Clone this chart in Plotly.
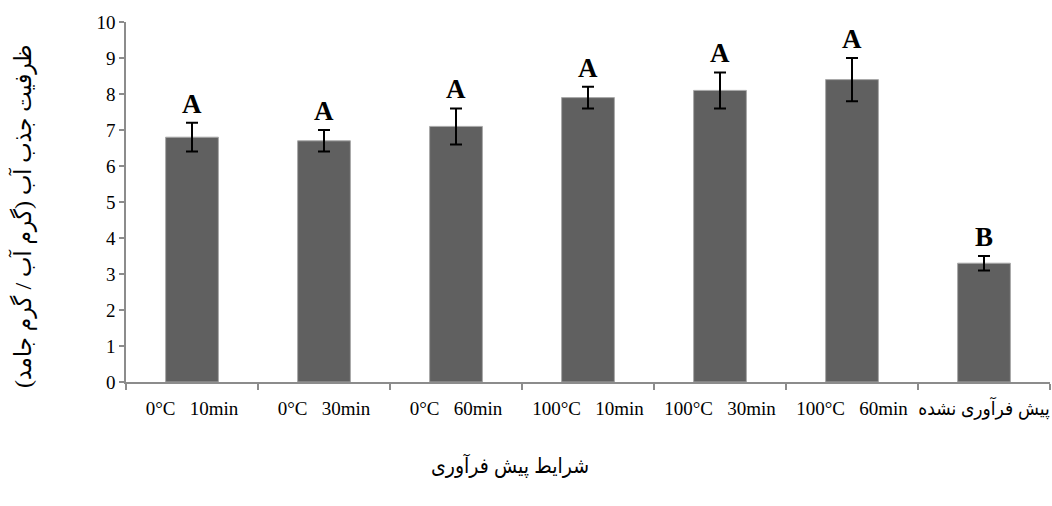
import plotly.graph_objects as go

# Pretreatment conditions (x categories)
categories = [
    "0°C\u00a0\u00a0\u00a010min",
    "0°C\u00a0\u00a0\u00a030min",
    "0°C\u00a0\u00a0\u00a060min",
    "100°C\u00a0\u00a0\u00a010min",
    "100°C\u00a0\u00a0\u00a030min",
    "100°C\u00a0\u00a0\u00a060min",
    "پیش فرآوری نشده",
]
# Water absorption capacity (g water / g solid)
absorption = [6.8, 6.7, 7.1, 7.9, 8.1, 8.4, 3.3]
errors = [0.4, 0.3, 0.5, 0.3, 0.5, 0.6, 0.2]
groups = ["A", "A", "A", "A", "A", "A", "B"]

y_ticks = list(range(0, 11))

serif = "Times New Roman, Liberation Serif, DejaVu Sans Condensed, DejaVu Sans, serif"

fig = go.Figure()
fig.add_trace(go.Bar(
    x=categories,
    y=absorption,
    width=0.4,
    marker=dict(color="#606060", line=dict(color="#a8a8a8", width=1)),
    error_y=dict(type="data", array=errors, visible=True,
                 color="black", thickness=2, width=6),
))

# Significance letters above each error bar
for cat, v, e, g in zip(categories, absorption, errors, groups):
    fig.add_annotation(
        x=cat, y=v + e, text=f"<b>{g}</b>", showarrow=False,
        yanchor="bottom", yshift=2,
        font=dict(family=serif, size=27, color="black"),
    )

# Axis titles
fig.add_annotation(
    text="ظرفیت جذب آب (گرم آب / گرم جامد)",
    xref="paper", yref="paper", x=-0.1126, y=0.461,
    xanchor="center", yanchor="middle",
    textangle=-90, showarrow=False,
    font=dict(family=serif, size=24, color="black"),
)
fig.add_annotation(
    text="شرایط پیش فرآوری",
    xref="paper", yref="paper", x=0.4156, y=-0.2306,
    xanchor="center", yanchor="middle",
    showarrow=False,
    font=dict(family=serif, size=21, color="black"),
)

fig.update_layout(
    width=1052, height=506,
    margin=dict(l=126, r=2, t=22, b=124),
    paper_bgcolor="white", plot_bgcolor="white",
    showlegend=False,
    font=dict(family=serif, size=19, color="black"),
)
fig.update_xaxes(
    type="category", tickangle=0, automargin=False,
    showline=True, linecolor="#8c8c8c", linewidth=1.5,
    ticks="outside", tickson="boundaries", ticklen=6,
    tickcolor="#8c8c8c", tickwidth=1.5, ticklabelstandoff=8,
    showgrid=False, zeroline=False,
    tickfont=dict(family=serif, size=19, color="black"),
)
fig.update_yaxes(
    range=[0, 10], tickvals=y_ticks, automargin=False,
    showline=True, linecolor="#8c8c8c", linewidth=1.5,
    ticks="outside", ticklen=5, tickcolor="#8c8c8c", tickwidth=1.5,
    showgrid=False, zeroline=False,
    tickfont=dict(family=serif, size=19, color="black"),
)

fig.write_html("out.html")
